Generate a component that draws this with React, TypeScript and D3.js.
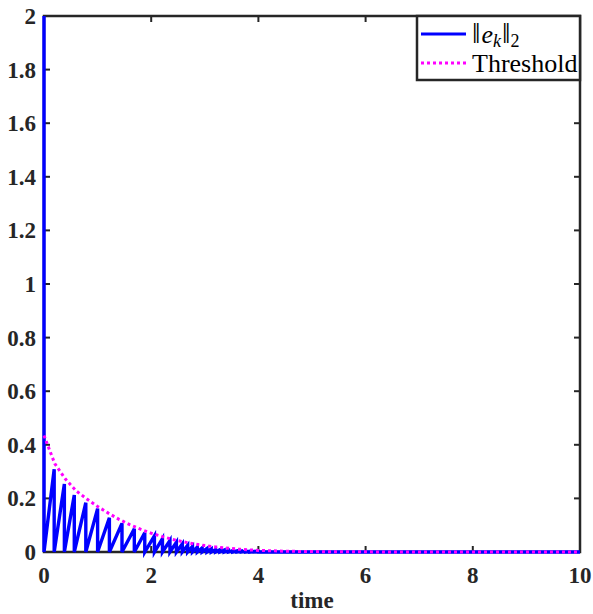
import React from 'react';
import * as d3 from 'd3';

// event (trigger) times and error value just before each reset
const eventTimes = [0, 0.19, 0.38, 0.565, 0.78, 1.0, 1.22, 1.455, 1.685, 1.88, 2.06, 2.21, 2.35, 2.47, 2.58, 2.68, 2.77, 2.86, 2.95, 3.04, 3.12, 3.2, 3.28, 3.36, 3.44, 3.52, 3.6, 3.68, 3.76, 3.84, 3.92, 4.0];
const peakValues = [2, 0.309, 0.254, 0.213, 0.184, 0.162, 0.128, 0.107, 0.087, 0.072, 0.06, 0.05, 0.043, 0.036, 0.03, 0.025, 0.021, 0.018, 0.015, 0.013, 0.011, 0.009, 0.008, 0.007, 0.006, 0.005, 0.004, 0.0035, 0.003, 0.0025, 0.002, 0.0015];

const thrTimes = [0, 0.2, 0.4, 0.6, 0.8, 1.0, 1.2, 1.4, 1.6, 1.8, 2.0, 2.2, 2.4, 2.6, 2.8, 3.0, 3.2, 3.4, 3.6, 3.8, 4.0, 4.5, 5, 6, 7, 10];
const thrValues = [0.435, 0.33, 0.272, 0.228, 0.198, 0.17, 0.145, 0.122, 0.102, 0.085, 0.07, 0.058, 0.047, 0.038, 0.03, 0.024, 0.019, 0.015, 0.011, 0.008, 0.006, 0.003, 0.0015, 0.0005, 0.0002, 0];

const xTicks = [0, 2, 4, 6, 8, 10];
const yTicks = [0, 0.2, 0.4, 0.6, 0.8, 1, 1.2, 1.4, 1.6, 1.8, 2];

export default function App() {
  const W = 593, H = 614;
  const left = 44, right = 580, top = 16, bottom = 552;
  const x = d3.scaleLinear().domain([0, 10]).range([left, right]);
  const y = d3.scaleLinear().domain([0, 2]).range([bottom, top]);

  // sawtooth: reset to 0 at each event, ramp up to the next peak
  const errPts: [number, number][] = [];
  eventTimes.forEach((t, i) => {
    errPts.push([t, peakValues[i]]);
    errPts.push([t, 0]);
  });
  errPts.push([10, 0]);

  const line = d3.line<[number, number]>().x(d => x(d[0])).y(d => y(d[1]));
  const thrPath = line(thrTimes.map((t, i) => [t, thrValues[i]] as [number, number]));
  const errPath = line(errPts);

  const font = "'Liberation Serif'";
  const bold = { fontFamily: font, fontWeight: 'bold' as const, fontSize: 23 };
  const axisColor = '#262626';
  const tickLen = 6;

  return (
    <svg width={W} height={H} style={{ position: 'absolute', left: 0, top: 0, background: '#fff' }}>
      <rect x={0} y={0} width={W} height={H} fill="#fff" />
      {/* ticks */}
      {xTicks.map(t => (
        <g key={'x' + t}>
          <line x1={x(t)} x2={x(t)} y1={bottom} y2={bottom - tickLen} stroke={axisColor} strokeWidth={2} />
          <line x1={x(t)} x2={x(t)} y1={top} y2={top + tickLen} stroke={axisColor} strokeWidth={2} />
          <text x={x(t)} y={583} textAnchor="middle" style={bold} fill={axisColor}>{t}</text>
        </g>
      ))}
      {yTicks.map(t => (
        <g key={'y' + t}>
          <line x1={left} x2={left + tickLen} y1={y(t)} y2={y(t)} stroke={axisColor} strokeWidth={2} />
          <line x1={right} x2={right - tickLen} y1={y(t)} y2={y(t)} stroke={axisColor} strokeWidth={2} />
          <text x={36} y={y(t) + 8} textAnchor="end" style={bold} fill={axisColor}>{String(t)}</text>
        </g>
      ))}
      <rect x={left} y={top} width={right - left} height={bottom - top} fill="none" stroke={axisColor} strokeWidth={2.5} />
      <text x={(left + right) / 2} y={608} textAnchor="middle" style={bold} fill={axisColor}>time</text>

      {/* series */}
      <path d={errPath ?? ''} fill="none" stroke="#0000ff" strokeWidth={3.4} strokeLinejoin="miter" />
      <path d={thrPath ?? ''} fill="none" stroke="#ff00ff" strokeWidth={3} strokeDasharray="3 3" />

      {/* legend */}
      <g>
        <rect x={417} y={top} width={right - 417} height={64} fill="#fff" stroke={axisColor} strokeWidth={2.5} />
        <line x1={421} x2={466} y1={34} y2={34} stroke="#0000ff" strokeWidth={3} />
        <line x1={421} x2={466} y1={63} y2={63} stroke="#ff00ff" strokeWidth={3} strokeDasharray="3 3" />
        <text x={472} y={43} style={{ fontFamily: font, fontSize: 26 }} fill="#000">
          <tspan style={{ fontSize: 30 }}>‖</tspan>
          <tspan style={{ fontStyle: 'italic' }} dx={1}>e</tspan>
          <tspan style={{ fontStyle: 'italic', fontSize: 18 }} dy={4}>k</tspan>
          <tspan style={{ fontSize: 30 }} dy={-4} dx={1}>‖</tspan>
          <tspan style={{ fontSize: 18 }} dy={4}>2</tspan>
        </text>
        <text x={472} y={72} style={{ fontFamily: font, fontSize: 26 }} fill="#000">Threshold</text>
      </g>
    </svg>
  );
}
